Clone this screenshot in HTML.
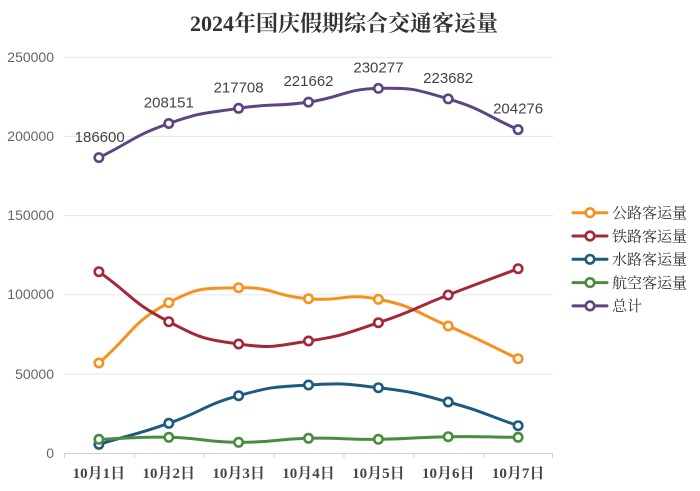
<!DOCTYPE html>
<html><head><meta charset="utf-8">
<style>
html,body{margin:0;padding:0;background:#fff;}
svg{display:block;}
.yl{font-family:"Liberation Sans",sans-serif;font-size:14px;fill:#666;}
.xl{font-family:"Liberation Serif","Noto Serif CJK SC",serif;font-size:15px;font-weight:bold;fill:#444;}
.dl{font-family:"Liberation Sans",sans-serif;font-size:15px;fill:#444;}
.lg{font-family:"Liberation Serif","Noto Serif CJK SC",serif;font-size:15px;fill:#333;}
</style></head>
<body>
<svg id="c" width="700" height="491" viewBox="0 0 700 491" xmlns="http://www.w3.org/2000/svg">
<text x="344" y="31" text-anchor="middle" style="font-family:'Liberation Serif','Noto Serif CJK SC',serif;font-size:22px;font-weight:bold;fill:#333;">2024年国庆假期综合交通客运量</text>
<g stroke="#e6e6e6" stroke-width="1">
<line x1="64" x2="553" y1="57.2" y2="57.2"/>
<line x1="64" x2="553" y1="136.4" y2="136.4"/>
<line x1="64" x2="553" y1="215.6" y2="215.6"/>
<line x1="64" x2="553" y1="294.8" y2="294.8"/>
<line x1="64" x2="553" y1="374" y2="374"/>
</g>
<g class="yl" text-anchor="end">
<text x="54" y="62">250000</text>
<text x="54" y="141">200000</text>
<text x="54" y="220">150000</text>
<text x="54" y="299">100000</text>
<text x="54" y="379">50000</text>
<text x="54" y="458">0</text>
</g>
<g stroke="#d0d0d0" stroke-width="1">
<line x1="64" x2="553" y1="453.5" y2="453.5"/>
<line x1="64.5" x2="64.5" y1="453" y2="458"/>
<line x1="134.4" x2="134.4" y1="453" y2="458"/>
<line x1="204.2" x2="204.2" y1="453" y2="458"/>
<line x1="274.1" x2="274.1" y1="453" y2="458"/>
<line x1="343.9" x2="343.9" y1="453" y2="458"/>
<line x1="413.8" x2="413.8" y1="453" y2="458"/>
<line x1="483.6" x2="483.6" y1="453" y2="458"/>
<line x1="552.5" x2="552.5" y1="453" y2="458"/>
</g>
<g class="xl" text-anchor="middle">
<text x="98.9" y="478">10月1日</text>
<text x="168.8" y="478">10月2日</text>
<text x="238.6" y="478">10月3日</text>
<text x="308.5" y="478">10月4日</text>
<text x="378.4" y="478">10月5日</text>
<text x="448.2" y="478">10月6日</text>
<text x="518.1" y="478">10月7日</text>
</g>
<g id="series"></g>
<g class="dl" text-anchor="middle">
<text x="99.7" y="142">186600</text>
<text x="168.8" y="107.5">208151</text>
<text x="238.6" y="92.3">217708</text>
<text x="308.5" y="86">221662</text>
<text x="378.4" y="72.5">230277</text>
<text x="448.2" y="83">223682</text>
<text x="518.1" y="113.5">204276</text>
</g>
<g id="legend"></g>
<g class="lg">
<text x="612" y="218">公路客运量</text>
<text x="612" y="241.3">铁路客运量</text>
<text x="612" y="264.6">水路客运量</text>
<text x="612" y="287.9">航空客运量</text>
<text x="612" y="311.2">总计</text>
</g>
</svg>
<script>
(function(){
var xs=[98.9,168.8,238.6,308.5,378.4,448.2,518.1];
var series=[
 {c:"#F7901E",y:[363,302.7,287.7,298.7,299.3,326,358.7]},
 {c:"#A3293A",y:[271.7,321.7,344,341,322.7,295,268.7]},
 {c:"#1E5A80",y:[444.3,423.3,395.7,385,387.7,402,425.7]},
 {c:"#4A8C3F",y:[439.3,437.3,442.3,438.3,439.3,436.7,437.3]},
 {c:"#5C4580",y:[157.6,123.5,108.3,102.1,88.4,98.9,129.6]}
];
var NS="http://www.w3.org/2000/svg";
var g=document.getElementById("series");
function dist(a,b){return Math.sqrt((a[0]-b[0])*(a[0]-b[0])+(a[1]-b[1])*(a[1]-b[1]));}
function path(p){
 var s=0.5,n=p.length,cps=[];
 for(var i=0;i<n;i++){
  var prev=p[i>0?i-1:i],next=p[i<n-1?i+1:i],cur=p[i];
  var vx=(next[0]-prev[0])*s,vy=(next[1]-prev[1])*s;
  var d0=dist(cur,prev),d1=dist(cur,next),sum=d0+d1;
  if(sum!==0){d0/=sum;d1/=sum;}
  cps.push([[cur[0]-vx*d0,cur[1]-vy*d0],[cur[0]+vx*d1,cur[1]+vy*d1]]);
 }
 var d="M"+p[0][0]+","+p[0][1];
 for(var i=1;i<n;i++){
  var a=cps[i-1][1],b=cps[i][0];
  d+="C"+a[0].toFixed(2)+","+a[1].toFixed(2)+" "+b[0].toFixed(2)+","+b[1].toFixed(2)+" "+p[i][0]+","+p[i][1];
 }
 return d;
}
series.forEach(function(se){
 var pts=xs.map(function(x,i){return [x,se.y[i]];});
 var pa=document.createElementNS(NS,"path");
 pa.setAttribute("d",path(pts));
 pa.setAttribute("fill","none");pa.setAttribute("stroke",se.c);pa.setAttribute("stroke-width","3");
 pa.setAttribute("stroke-linejoin","round");pa.setAttribute("stroke-linecap","round");
 g.appendChild(pa);
 pts.forEach(function(q){
  var ci=document.createElementNS(NS,"circle");
  ci.setAttribute("cx",q[0]);ci.setAttribute("cy",q[1]);ci.setAttribute("r","4.2");
  ci.setAttribute("fill","#fff");ci.setAttribute("stroke",se.c);ci.setAttribute("stroke-width","2.6");
  g.appendChild(ci);
 });
});
var lg=document.getElementById("legend");
series.forEach(function(se,i){
 var y=212.7+i*23.3;
 var l=document.createElementNS(NS,"line");
 l.setAttribute("x1","573");l.setAttribute("x2","607");l.setAttribute("y1",y);l.setAttribute("y2",y);
 l.setAttribute("stroke",se.c);l.setAttribute("stroke-width","3");l.setAttribute("stroke-linecap","round");
 lg.appendChild(l);
 var ci=document.createElementNS(NS,"circle");
 ci.setAttribute("cx","590");ci.setAttribute("cy",y);ci.setAttribute("r","4.3");
 ci.setAttribute("fill","#fff");ci.setAttribute("stroke",se.c);ci.setAttribute("stroke-width","2.6");
 lg.appendChild(ci);
});
})();
</script>
</body></html>
